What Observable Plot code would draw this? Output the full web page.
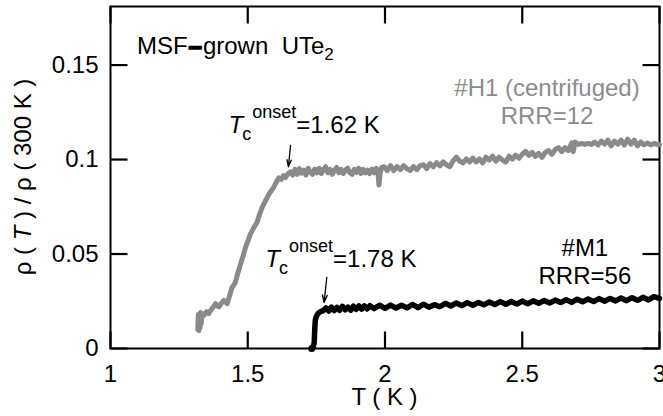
<!DOCTYPE html>
<html><head><meta charset="utf-8">
<script src="https://cdn.jsdelivr.net/npm/d3@7"></script>
<script src="https://cdn.jsdelivr.net/npm/@observablehq/plot@0.6"></script>
<style>body{margin:0;background:#fff} svg{display:block}</style>
</head><body><div id="chart"></div>
<script>
// Sample #H1 (centrifuged), RRR=12 : temperature (K) and rho(T)/rho(300K)
const h1T = [1.318,1.320,1.322,1.324,1.326,1.328,1.330,1.334,1.340,1.350,1.358,1.364,1.372,1.383,1.389,1.395,1.404,1.413,1.419,1.425,1.434,1.443,1.449,1.455,1.464,1.474,1.483,1.492,1.501,1.510,1.522,1.534,1.543,1.553,1.562,1.571,1.583,1.595,1.604,1.613,1.622,1.630,1.638,1.647,
1.656,1.664,1.672,1.680,1.688,1.696,1.704,1.712,1.720,1.728,1.736,1.744,1.752,1.760,1.768,1.776,1.784,1.792,1.800,1.808,1.816,1.824,1.832,1.840,1.848,1.856,1.864,1.872,1.880,1.888,1.896,1.904,1.912,1.920,1.928,1.936,1.944,1.952,1.960,1.968,1.974,1.978,1.982,1.988,1.996,
2.008,2.020,2.032,2.044,2.056,2.068,2.080,2.092,2.104,2.116,2.128,2.140,2.152,2.164,2.176,2.188,2.200,2.212,2.224,2.236,2.248,2.260,2.272,2.284,2.296,2.308,2.320,2.332,2.344,2.356,2.368,2.380,2.392,2.404,2.416,2.428,2.440,2.452,2.464,2.476,2.488,2.500,2.512,2.524,2.536,2.548,2.560,2.572,2.584,2.596,2.608,2.620,2.632,2.644,2.656,2.668,2.680,2.686,2.692,2.704,2.716,2.728,2.740,2.752,2.764,2.776,2.788,2.800,2.812,2.824,2.836,2.848,2.860,2.872,2.884,2.896,2.908,2.920,2.932,2.944,2.956,2.968,2.980,2.992,3.000];
const h1R = [0.0100,0.0180,0.0095,0.0170,0.0110,0.0190,0.0130,0.0185,0.0175,0.0195,0.0185,0.0200,0.0215,0.0237,0.0225,0.0220,0.0240,0.0254,0.0245,0.0237,0.0280,0.0324,0.0335,0.0350,0.0400,0.0448,0.0490,0.0536,0.0570,0.0607,0.0640,0.0668,0.0710,0.0748,0.0775,0.0800,0.0830,0.0854,0.0880,0.0903,0.0895,0.0915,0.0905,0.0925,
0.0935,0.0918,0.0948,0.0922,0.0952,0.0928,0.0944,0.0918,0.0954,0.0932,0.0922,0.0950,0.0930,0.0954,0.0926,0.0948,0.0962,0.0930,0.0948,0.0922,0.0944,0.0958,0.0930,0.0948,0.0926,0.0944,0.0954,0.0930,0.0922,0.0948,0.0932,0.0954,0.0926,0.0948,0.0930,0.0944,0.0926,0.0950,0.0930,0.0954,0.0940,0.0865,0.0925,0.0958,0.0962,
0.0942,0.0968,0.0942,0.0963,0.0947,0.0968,0.0952,0.0942,0.0963,0.0947,0.0968,0.0973,0.0952,0.0978,0.0962,0.0983,0.0967,0.0988,0.0972,0.0962,0.0993,0.1013,0.0992,0.0982,0.1003,0.0987,0.1008,0.0987,0.1003,0.0982,0.1013,0.0997,0.1018,0.0992,0.1013,0.0997,0.0987,0.1018,0.1002,0.1023,0.1007,0.1028,0.1043,0.1022,0.1038,0.1017,0.1033,0.1012,0.1038,0.1048,0.1027,0.1053,0.1063,0.1042,0.1063,0.1047,0.1088,0.1042,0.1093,0.1080,0.1085,0.1080,0.1085,0.1080,0.1093,0.1077,0.1098,0.1082,0.1103,0.1072,0.1098,0.1082,0.1103,0.1077,0.1108,0.1082,0.1103,0.1072,0.1093,0.1077,0.1088,0.1078,0.1085,0.1080,0.1080];

// Sample #M1, RRR=56
const m1T = [1.733,1.738,1.742,1.744,1.746,1.750,1.756,1.765,1.775,1.785,1.795,1.805,1.815,1.825,1.835,1.845,1.855,1.865,1.875,1.885,1.895,1.905,1.915,1.925,1.935,1.945,1.960,1.980,2.000,2.020,2.040,2.060,2.080,2.100,2.120,2.140,2.160,2.180,2.200,2.220,2.240,2.260,2.280,2.300,2.320,2.340,2.360,2.380,2.400,2.420,2.440,2.460,2.480,2.500,2.520,2.540,2.560,2.580,2.600,2.620,2.640,2.660,2.680,2.700,2.720,2.740,2.760,2.780,2.800,2.820,2.840,2.860,2.880,2.900,2.920,2.940,2.960,2.980,3.000];
const m1R = [0.0000,0.0005,0.0030,0.0100,0.0150,0.0170,0.0185,0.0195,0.0200,0.0215,0.0198,0.0219,0.0201,0.0218,0.0202,0.0223,0.0205,0.0219,0.0203,0.0224,0.0207,0.0225,0.0208,0.0226,0.0209,0.0227,0.0211,0.0229,0.0212,0.0230,0.0214,0.0229,0.0215,0.0233,0.0216,0.0234,0.0219,0.0232,0.0221,0.0239,0.0225,0.0241,0.0227,0.0243,0.0228,0.0244,0.0231,0.0246,0.0233,0.0248,0.0234,0.0249,0.0235,0.0251,0.0237,0.0252,0.0239,0.0254,0.0241,0.0256,0.0243,0.0258,0.0244,0.0261,0.0247,0.0262,0.0249,0.0264,0.0250,0.0265,0.0252,0.0267,0.0253,0.0269,0.0255,0.0271,0.0257,0.0274,0.0265];

const xTicks = [1, 1.5, 2, 2.5, 3];
const yTicks = [0, 0.05, 0.1, 0.15];
const xDomain = [1, 3];
const yDomain = [0, 0.181];

const h1 = h1T.map((t, i) => ({T: t, r: h1R[i]}));
const m1 = m1T.map((t, i) => ({T: t, r: m1R[i]}));

// annotation anchors (data units)
const arrows = [
  {T1: 1.656, r1: 0.1075, T2: 1.648, r2: 0.0962},
  {T1: 1.788, r1: 0.0376, T2: 1.778, r2: 0.0243}
];
const onsets = [
  {T: 1.432, r: 0.1136, val: "=1.62 K"},
  {T: 1.566, r: 0.0430, val: "=1.78 K"}
];
const sampleLabels = [
  {T: 2.592, r: 0.1334, text: "#H1 (centrifuged)", color: "#8c8c8c"},
  {T: 2.592, r: 0.1187, text: "RRR=12", color: "#8c8c8c"},
  {T: 2.730, r: 0.0488, text: "#M1", color: "#000"},
  {T: 2.730, r: 0.0337, text: "RRR=56", color: "#000"}
];

const FONT = "'Liberation Sans', Arial, Helvetica, sans-serif";
const FS = 24;
const W = 663, H = 416, ML = 110, MR = 4, MT = 6, MB = 68;
const TICK = 17;   // inward tick length, px
// tick length expressed in data units
const tx = TICK * (xDomain[1] - xDomain[0]) / (W - ML - MR);
const ty = TICK * (yDomain[1] - yDomain[0]) / (H - MT - MB);

const xTickRows = xTicks.flatMap(t => [
  {x: t, y1: yDomain[0], y2: yDomain[0] + ty},
  {x: t, y1: yDomain[1] - ty, y2: yDomain[1]}
]);
const yTickRows = yTicks.flatMap(t => [
  {y: t, x1: xDomain[0], x2: xDomain[0] + tx},
  {y: t, x1: xDomain[1] - tx, x2: xDomain[1]}
]);

const plot = Plot.plot({
  width: W,
  height: H,
  marginLeft: ML,
  marginRight: MR,
  marginTop: MT,
  marginBottom: MB,
  style: {fontFamily: FONT, fontSize: FS + "px", color: "#000", background: "#fff"},
  x: {domain: xDomain},
  y: {domain: yDomain},
  marks: [
    Plot.axisX({anchor: "bottom", ticks: xTicks, tickSize: 0, tickPadding: 16, tickFormat: d => String(d), label: null, fontSize: FS}),
    Plot.axisY({anchor: "left", ticks: yTicks, tickSize: 0, tickPadding: 12, tickFormat: d => String(d), label: null, fontSize: FS}),
    // inward ticks on all four sides
    Plot.link(xTickRows, {x1: "x", x2: "x", y1: "y1", y2: "y2", stroke: "#000", strokeWidth: 2.2}),
    Plot.link(yTickRows, {y1: "y", y2: "y", x1: "x1", x2: "x2", stroke: "#000", strokeWidth: 2.2}),
    Plot.frame({stroke: "#000", strokeWidth: 2}),
    Plot.line(h1, {x: "T", y: "r", stroke: "#8a8a8a", strokeWidth: 5, strokeLinejoin: "round"}),
    Plot.line(m1, {x: "T", y: "r", stroke: "#000", strokeWidth: 5.5, strokeLinejoin: "round"}),
    Plot.dot(m1.slice(0, 1), {x: "T", y: "r", r: 3.5, fill: "#000"}),
    Plot.arrow(arrows, {x1: "T1", y1: "r1", x2: "T2", y2: "r2", stroke: "#000", strokeWidth: 1.3, headLength: 9, headAngle: 35})
  ]
});

document.getElementById("chart").appendChild(plot);

const sx = plot.scale("x"), sy = plot.scale("y");
const svg = d3.select(plot);
const g = svg.append("g").attr("font-family", FONT).attr("fill", "#000").attr("text-anchor", "start");

// Title
const title = g.append("text")
  .attr("x", sx.apply(1.098)).attr("y", sy.apply(0.1556))
  .attr("text-anchor", "start").attr("font-size", FS);
title.append("tspan").text("MSF");
title.append("tspan").text("\u2013").attr("font-weight", "bold").attr("stroke", "#000").attr("stroke-width", 1.6).attr("dx", 1);
title.append("tspan").text("grown  UTe").attr("dx", 1);
title.append("tspan").text("2").attr("font-size", 17).attr("dy", 6);

// Tc onset labels
for (const o of onsets) {
  const t = g.append("text").attr("x", sx.apply(o.T)).attr("y", sy.apply(o.r))
    .attr("text-anchor", "start").attr("font-size", FS);
  t.append("tspan").text("T").attr("font-style", "italic");
  t.append("tspan").text("c").attr("font-size", 18).attr("dy", 7).attr("dx", -1);
  t.append("tspan").text("onset").attr("font-size", 18).attr("dy", -22).attr("dx", 1);
  t.append("tspan").text(o.val).attr("dy", 15);
}

// sample labels
for (const s of sampleLabels) {
  g.append("text").attr("x", sx.apply(s.T)).attr("y", sy.apply(s.r))
    .attr("text-anchor", "middle").attr("font-size", FS).attr("fill", s.color).text(s.text);
}

// Axis labels
const yl = g.append("text")
  .attr("transform", `translate(31,${(sy.apply(yDomain[0]) + sy.apply(yDomain[1])) / 2}) rotate(-90)`)
  .attr("text-anchor", "middle").attr("font-size", FS);
yl.append("tspan").text("\u03c1 ( ");
yl.append("tspan").text("T").attr("font-style", "italic");
yl.append("tspan").text(" ) / \u03c1 ( 300 K )");

g.append("text")
  .attr("x", sx.apply(2)).attr("y", 405)
  .attr("text-anchor", "middle").attr("font-size", FS)
  .text("T ( K )");
</script>
</body></html>
